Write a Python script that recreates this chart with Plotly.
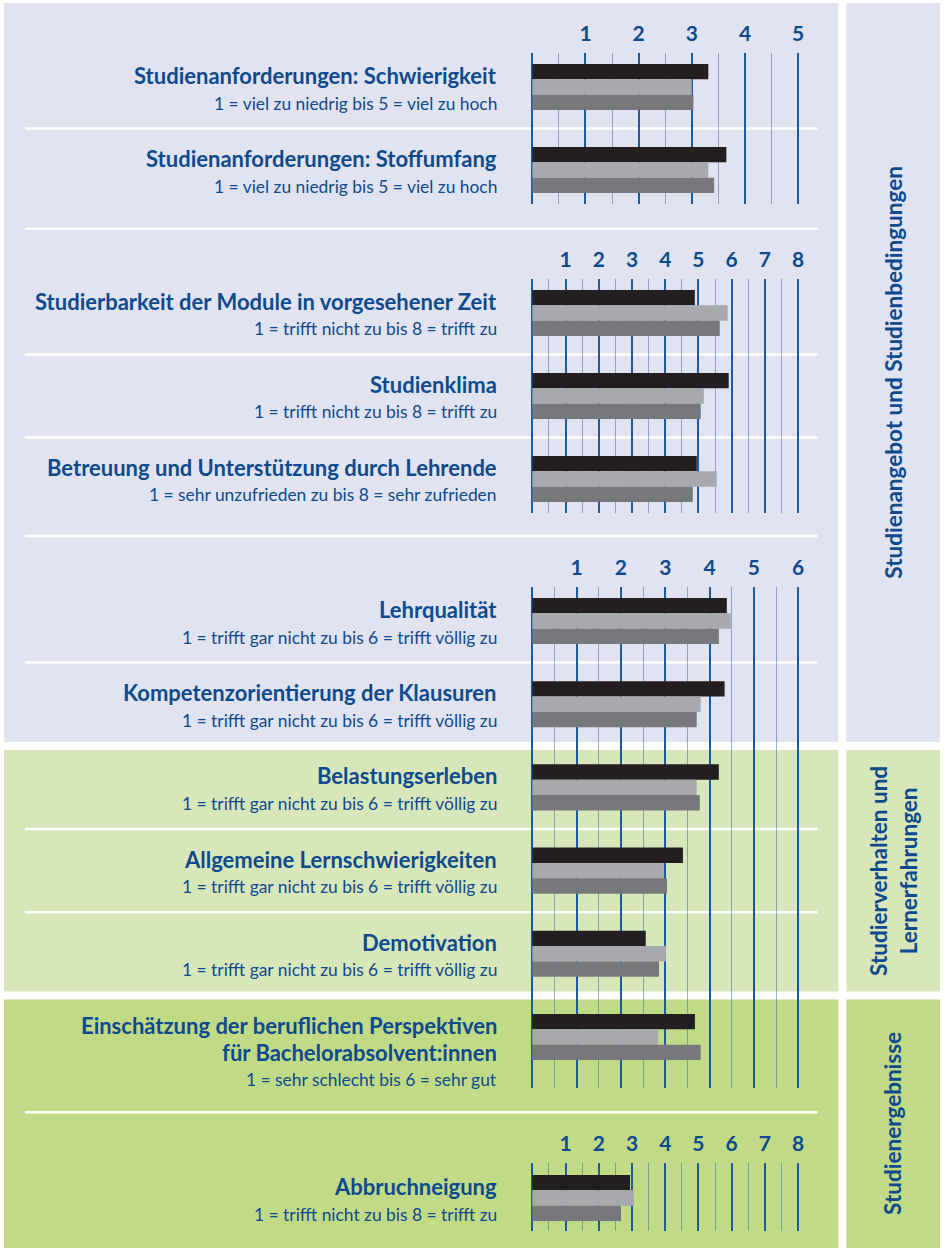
import plotly.graph_objects as go

W, H = 945, 1251

# ---------------- data ----------------
series_names = ["Gruppe 1", "Gruppe 2", "Gruppe 3"]
series_colors = ["#231f20", "#a7a9ac", "#77787b"]

b1_labels = ["Studienanforderungen: Schwierigkeit", "Studienanforderungen: Stoffumfang"]
b1_scales = ["1 = viel zu niedrig bis 5 = viel zu hoch", "1 = viel zu niedrig bis 5 = viel zu hoch"]
b1_s1 = [3.31, 3.65]
b1_s2 = [3.00, 3.31]
b1_s3 = [3.03, 3.42]
b1_max = 5

b2_labels = ["Studierbarkeit der Module in vorgesehener Zeit", "Studienklima",
             "Betreuung und Unterstützung durch Lehrende"]
b2_scales = ["1 = trifft nicht zu bis 8 = trifft zu", "1 = trifft nicht zu bis 8 = trifft zu",
             "1 = sehr unzufrieden zu bis 8 = sehr zufrieden"]
b2_s1 = [4.89, 5.91, 4.95]
b2_s2 = [5.88, 5.16, 5.55]
b2_s3 = [5.64, 5.07, 4.83]
b2_max = 8

b3_labels = ["Lehrqualität", "Kompetenzorientierung der Klausuren", "Belastungserleben",
             "Allgemeine Lernschwierigkeiten", "Demotivation",
             "Einschätzung der beruflichen Perspektiven<br>für Bachelorabsolvent:innen"]
b3_scales = ["1 = trifft gar nicht zu bis 6 = trifft völlig zu"] * 5 + ["1 = sehr schlecht bis 6 = sehr gut"]
b3_s1 = [4.39, 4.34, 4.21, 3.40, 2.56, 3.67]
b3_s2 = [4.48, 3.80, 3.71, 2.97, 3.02, 2.84]
b3_s3 = [4.21, 3.71, 3.78, 3.04, 2.86, 3.80]
b3_max = 6

b4_labels = ["Abbruchneigung"]
b4_scales = ["1 = trifft nicht zu bis 8 = trifft zu"]
b4_s1 = [2.94]
b4_s2 = [3.06]
b4_s3 = [2.67]
b4_max = 8

section_labels = ["Studienangebot und Studienbedingungen",
                  "Studierverhalten und<br>Lernerfahrungen",
                  "Studienergebnisse"]

# ---------------- layout constants (pixels) ----------------
BLUE = "#0d4a8e"
FONT = "Lato"
X0_PX, XMAX_PX = 534.0, 800.7
PAD = 0.08
blocks = [
    dict(labels=b1_labels, scales=b1_scales, vals=[b1_s1, b1_s2, b1_s3], vmax=b1_max,
         top=53, bottom=204, first=87, pitch=83.0, seps=[0]),
    dict(labels=b2_labels, scales=b2_scales, vals=[b2_s1, b2_s2, b2_s3], vmax=b2_max,
         top=279, bottom=513, first=313, pitch=83.0, seps=[0, 1]),
    dict(labels=b3_labels, scales=b3_scales, vals=[b3_s1, b3_s2, b3_s3], vmax=b3_max,
         top=587, bottom=1088, first=621, pitch=83.2, seps=[0, 2, 3]),
    dict(labels=b4_labels, scales=b4_scales, vals=[b4_s1, b4_s2, b4_s3], vmax=b4_max,
         top=1163, bottom=1231, first=1198, pitch=83.0, seps=[]),
]
block_seps_px = [228.7, 536.0, 1112.3]
sections = [  # (top, bottom, colour)
    (3, 742, "#e1e3f0"),
    (750, 991.5, "#d8e7b9"),
    (999.5, 1248, "#c1da86"),
]

fig = go.Figure()
shapes = []
annotations = []

for top, bot, col in sections:
    for x0, x1 in [(4, 841), (849, 943)]:
        shapes.append(dict(type="rect", xref="paper", yref="paper", x0=x0 / W, x1=x1 / W,
                           y0=1 - bot / H, y1=1 - top / H, fillcolor=col, line_width=0,
                           layer="below"))
for yp in block_seps_px:
    shapes.append(dict(type="line", xref="paper", yref="paper", x0=25 / W, x1=820 / W,
                       y0=1 - yp / H, y1=1 - yp / H, line=dict(color="white", width=2.5),
                       layer="below"))

for i, b in enumerate(blocks):
    n = i + 1
    xa = "x" if n == 1 else f"x{n}"
    ya = "y" if n == 1 else f"y{n}"
    u = (XMAX_PX - X0_PX) / b["vmax"]
    for s in range(3):
        fig.add_trace(go.Bar(x=b["vals"][s], y=b["labels"], orientation="h",
                             name=series_names[s], marker=dict(color=series_colors[s], line_width=0),
                             xaxis=xa, yaxis=ya, showlegend=False))
    vmax = b["vmax"]
    fig.layout[f"xaxis{'' if n == 1 else n}"] = dict(
        domain=[(X0_PX - PAD * u) / W, (XMAX_PX + PAD * u) / W],
        range=[-PAD, vmax + PAD], anchor=ya, side="top",
        tickmode="array", tickvals=list(range(0, vmax + 1)),
        ticktext=[""] + [str(k) for k in range(1, vmax + 1)],
        showgrid=True, gridcolor="#1d5ba0", gridwidth=2, zeroline=False, showline=False,
        ticks="", ticklabelstandoff=7,
        tickfont=dict(family=FONT, size=21, color=BLUE, weight="bold"),
        minor=dict(tickvals=[k + 0.5 for k in range(vmax)], showgrid=True,
                   gridcolor="rgba(60,95,175,0.5)", gridwidth=1.3, ticks=""),
        fixedrange=True,
    )
    p = b["pitch"]
    fig.layout[f"yaxis{'' if n == 1 else n}"] = dict(
        domain=[1 - b["bottom"] / H, 1 - b["top"] / H],
        type="category", categoryorder="array", categoryarray=b["labels"],
        range=[(b["bottom"] - b["first"]) / p, (b["top"] - b["first"]) / p],
        anchor=xa, showticklabels=False, showgrid=False, zeroline=False, showline=False,
        ticks="", fixedrange=True,
    )
    for k in b["seps"]:
        shapes.append(dict(type="line", xref="paper", yref=ya, x0=25 / W, x1=820 / W,
                           y0=k + 0.5, y1=k + 0.5, line=dict(color="white", width=2.5),
                           layer="below"))
    for lab, sc in zip(b["labels"], b["scales"]):
        lines = lab.split("<br>")
        for li, t in enumerate(lines):
            annotations.append(dict(xref="paper", yref=ya, x=501 / W, y=lab, xanchor="right",
                                    yanchor="middle", yshift=11.5 - 26.5 * li, text=t,
                                    showarrow=False,
                                    font=dict(family=FONT, size=22, color=BLUE, weight="bold")))
        annotations.append(dict(xref="paper", yref=ya, x=501 / W, y=lab, xanchor="right",
                                yanchor="middle", yshift=11.5 - 26.5 * len(lines) - 1, text=sc,
                                showarrow=False,
                                font=dict(family=FONT, size=17.4, color=BLUE)))

for (top, bot, col), txt in zip(sections, section_labels):
    annotations.append(dict(xref="paper", yref="paper", x=896 / W, y=1 - (top + bot) / 2 / H,
                            xanchor="center", yanchor="middle", textangle=-90, text=txt,
                            showarrow=False,
                            font=dict(family=FONT, size=22.5, color=BLUE, weight="bold")))

fig.update_layout(width=W, height=H, autosize=False,
                  margin=dict(l=0, r=0, t=0, b=0, pad=0),
                  paper_bgcolor="white", plot_bgcolor="rgba(0,0,0,0)",
                  barmode="group", bargap=0.446, bargroupgap=0,
                  shapes=shapes, annotations=annotations, showlegend=False)

fig.write_html("out.html", config={"displayModeBar": False},
               post_script="document.body.style.margin='0px';document.body.style.overflow='hidden';")
